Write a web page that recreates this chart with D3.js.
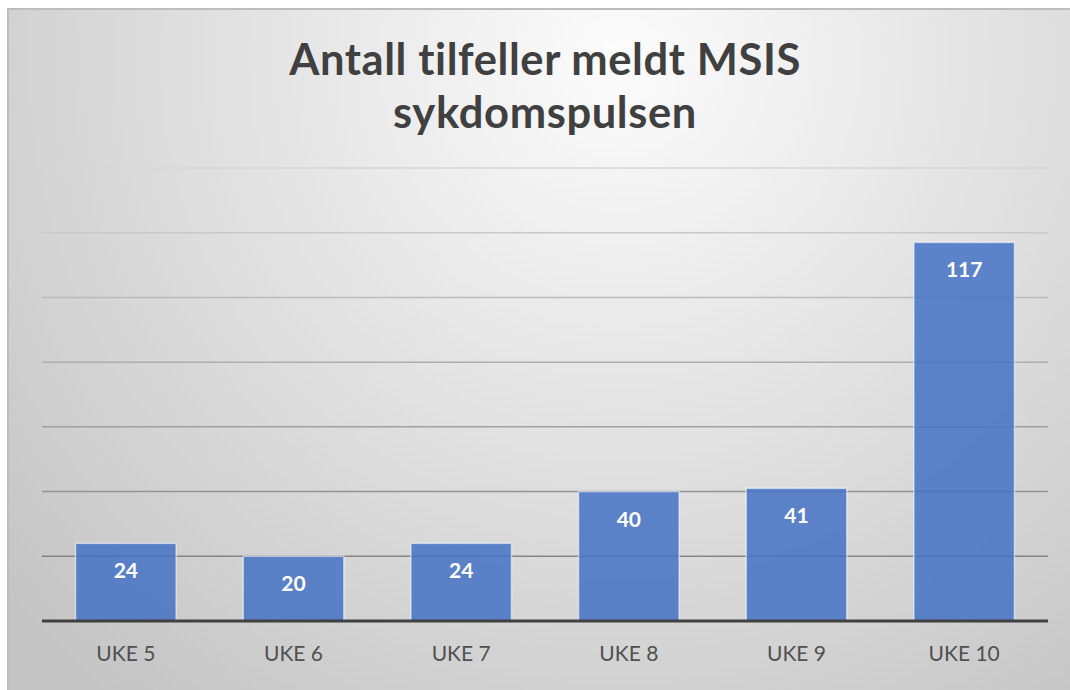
<!DOCTYPE html>
<html><head><meta charset="utf-8">
<script src="https://cdn.jsdelivr.net/npm/d3@7"></script>
<style>html,body{margin:0;padding:0;background:#fff;overflow:hidden}</style>
</head><body>
<svg id="c" width="1070" height="690"></svg>
<script>
const categories = ["UKE 5","UKE 6","UKE 7","UKE 8","UKE 9","UKE 10"];
const values = [24, 20, 24, 40, 41, 117];
const yTicks = [0, 20, 40, 60, 80, 100, 120, 140];
const titleLines = ["Antall tilfeller meldt MSIS", "sykdomspulsen"];

const svg = d3.select("#c");
const defs = svg.append("defs");
const rg = defs.append("radialGradient").attr("id","bg")
  .attr("gradientUnits","userSpaceOnUse").attr("cx",620).attr("cy",60).attr("r",820);
rg.append("stop").attr("offset","0").attr("stop-color","#fcfcfc");
rg.append("stop").attr("offset","1").attr("stop-color","#c4c4c4");

svg.append("rect").attr("x",8).attr("y",9).attr("width",1070).attr("height",700)
  .attr("fill","url(#bg)").attr("stroke","#bdbdbd").attr("stroke-width",2);

const x = d3.scaleBand().domain(categories).range([42,1048]).paddingInner(0.4).paddingOuter(0.2);
const y = d3.scaleLinear().domain([0,140]).range([621,168]);

const gridColor = d3.scaleLinear().domain([140,20]).range(["#d6d6d6","#858585"]);
svg.append("g").selectAll("line").data(yTicks.filter(d=>d>0)).join("line")
  .attr("x1",42).attr("x2",1048).attr("y1",d=>y(d)).attr("y2",d=>y(d))
  .attr("stroke",d=>gridColor(d)).attr("stroke-width",1.5);

svg.append("g").selectAll("rect").data(values).join("rect")
  .attr("x",(d,i)=>x(categories[i])).attr("width",x.bandwidth())
  .attr("y",d=>y(d)).attr("height",d=>y(0)-y(d))
  .attr("fill","#4472c4").attr("fill-opacity",0.85)
  .attr("stroke","#ffffff").attr("stroke-opacity",0.55).attr("stroke-width",1.5);

svg.append("line").attr("x1",42).attr("x2",1048).attr("y1",y(0)).attr("y2",y(0))
  .attr("stroke","#404040").attr("stroke-width",3);

svg.append("g").selectAll("text").data(values).join("text")
  .attr("x",(d,i)=>x(categories[i])+x.bandwidth()/2).attr("y",d=>y(d)+35)
  .attr("text-anchor","middle").attr("fill","#ffffff")
  .attr("font-family","Lato, 'Open Sans', sans-serif").attr("font-weight","bold").attr("font-size",21)
  .text(d=>d);

const xAxis = d3.axisBottom(x).tickSize(0).tickPadding(0);
const ax = svg.append("g").attr("transform",`translate(0,${y(0)})`).call(xAxis);
ax.select(".domain").remove();
ax.selectAll("text").attr("dy",0).attr("y",40).attr("fill","#505050")
  .attr("font-family","Lato, 'Open Sans', sans-serif").attr("font-size",21);

svg.append("g").selectAll("text").data(titleLines).join("text")
  .attr("x",545).attr("y",(d,i)=>75+i*53).attr("text-anchor","middle")
  .attr("fill","#404040").attr("font-family","Lato, 'Open Sans', sans-serif")
  .attr("font-weight","bold").attr("font-size",43.5).attr("letter-spacing",0.6).text(d=>d);
</script>
</body></html>
